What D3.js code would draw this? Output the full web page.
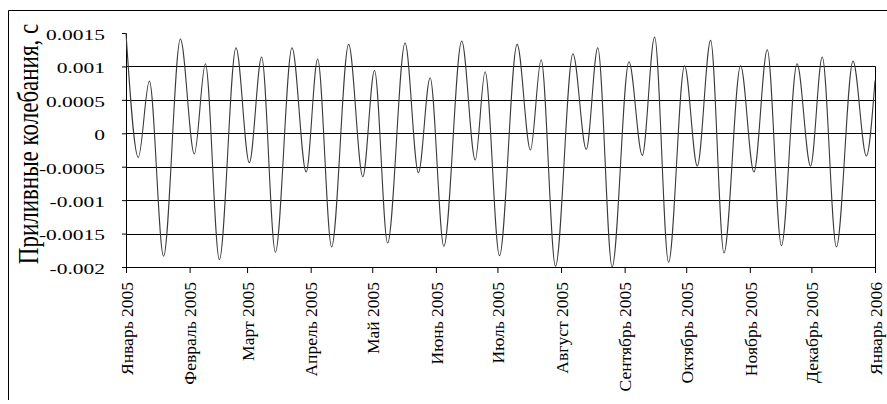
<html>
  <head>
    <meta charset="utf-8">
    <script src="https://cdn.jsdelivr.net/npm/d3@7"></script>
    <style type="text/css">
      body {
        margin: 0;
        padding: 0;
        background: #fff;
      }

      svg text {
        font-family: 'Liberation Serif', 'Times New Roman', serif;
        fill: #000;
      }
    </style>
  </head>
  <body>
    <svg id="chart" width="887" height="404"></svg>

    <script>
      /* Data: turning points of the tide curve */
      // days since 1 Jan 2005
      const tideDays = [
        0, 6.0, 11.4, 18.3, 26.5, 33.3, 38.7, 45.5, 53.6, 60.1,
        66.1, 72.8, 80.9, 87.8, 93.4, 100.2, 108.5, 115.4, 121.1, 127.5,
        136.0, 142.5, 148.2, 154.9, 163.6, 170.2, 175.0, 182.0, 190.6, 197.1,
        202.3, 209.3, 217.8, 224.3, 229.9, 236.9, 245.1, 251.6, 257.6, 264.4,
        272.2, 278.4, 284.9, 291.4, 299.5, 306.0, 312.5, 319.4, 327.0, 333.6,
        339.3, 346.2, 354.3, 360.8, 365
      ]
      // seconds
      const tideValues = [
        0.0015, -0.00036, 0.00078, -0.00184, 0.00141, -0.00031, 0.00104, -0.00189, 0.00128, -0.00044,
        0.00114, -0.00178, 0.00128, -0.00058, 0.00111, -0.00170, 0.00133, -0.00065, 0.00094, -0.00164,
        0.00135, -0.00059, 0.00083, -0.00169, 0.00138, -0.00040, 0.00092, -0.00183, 0.00133, -0.00025,
        0.00110, -0.00199, 0.00119, -0.00024, 0.00128, -0.00200, 0.00107, -0.00033, 0.00144, -0.00193,
        0.00101, -0.00049, 0.00139, -0.00179, 0.00101, -0.00058, 0.00125, -0.00168, 0.00104, -0.00049,
        0.00114, -0.00170, 0.00108, -0.00034, 0.00079
      ]

      const monthLabels = [
        'Январь 2005', 'Февраль 2005', 'Март 2005', 'Апрель 2005', 'Май 2005',
        'Июнь 2005', 'Июль 2005', 'Август 2005', 'Сентябрь 2005', 'Октябрь 2005',
        'Ноябрь 2005', 'Декабрь 2005', 'Январь 2006'
      ]
      const yTicks = [-0.002, -0.0015, -0.001, -0.0005, 0, 0.0005, 0.001, 0.0015]
      const yTickLabels = ['-0.002', '-0.0015', '-0.001', '-0.0005', '0', '0.0005', '0.001', '0.0015']
      const yTitle = 'Приливные колебания, с'

      const start = new Date(Date.UTC(2005, 0, 1))
      const monthDates = monthLabels.map((d, i) => new Date(Date.UTC(2005, i, 1)))
      const points = tideDays.map((d, i) => ({
        date: new Date(start.getTime() + d * 864e5),
        value: tideValues[i]
      }))

      const svg = d3.select('#chart')

      const x = d3.scaleUtc()
        .domain([start, monthDates[monthDates.length - 1]])
        .range([126, 875])

      const y = d3.scaleLinear()
        .domain([-0.002, 0.0015])
        .range([267, 33])

      // outer frame (only top and left edges are in view)
      svg.append('path')
        .attr('d', 'M8.5,400V10.5H887')
        .attr('fill', 'none')
        .attr('stroke', '#000')

      // horizontal gridlines
      svg.append('g')
        .selectAll('line')
        .data(yTicks.filter(v => v > -0.002 && v < 0.0015))
        .join('line')
          .attr('x1', x.range()[0] + 0.5)
          .attr('x2', x.range()[1] + 0.5)
          .attr('y1', d => Math.round(y(d)) + 0.5)
          .attr('y2', d => Math.round(y(d)) + 0.5)
          .attr('stroke', '#000')

      // right edge of the plot area
      svg.append('line')
        .attr('x1', x.range()[1] + 0.5)
        .attr('x2', x.range()[1] + 0.5)
        .attr('y1', Math.round(y(0.001)) + 0.5)
        .attr('y2', y(-0.002))
        .attr('stroke', '#000')

      // x axis
      const xAxis = svg.append('g')
        .attr('transform', `translate(0,${y(-0.002)})`)
        .call(d3.axisBottom(x)
          .tickValues(monthDates)
          .tickFormat((d, i) => monthLabels[i])
          .tickSize(6)
          .tickSizeOuter(0))

      xAxis.selectAll('text')
        .attr('transform', 'rotate(-90)')
        .attr('text-anchor', 'end')
        .attr('x', -15)
        .attr('y', 6.3)
        .attr('dy', 0)
        .style('font-size', '17.5px')

      // y axis
      const yAxis = svg.append('g')
        .attr('transform', `translate(${x.range()[0]},0)`)
        .call(d3.axisLeft(y)
          .tickValues(yTicks)
          .tickFormat((d, i) => yTickLabels[i])
          .tickSize(4)
          .tickSizeOuter(0))

      yAxis.selectAll('text')
        .attr('x', 0)
        .attr('dy', 0)
        .attr('transform', 'translate(-21,6.3) scale(1.43,1)')
        .style('font-size', '15px')

      svg.selectAll('.domain').attr('stroke', '#000')
      svg.selectAll('.tick line').attr('stroke', '#000')

      // the tide curve
      const line = d3.line()
        .x(d => x(d.date))
        .y(d => y(d.value))
        .curve(d3.curveMonotoneX)

      svg.append('path')
        .datum(points)
        .attr('d', line)
        .attr('fill', 'none')
        .attr('stroke', '#3a3a3a')
        .attr('stroke-width', 1.1)

      // axis title
      svg.append('text')
        .attr('transform', 'translate(38,144) scale(1.25,1) rotate(-90)')
        .attr('text-anchor', 'middle')
        .style('font-size', '23px')
        .text(yTitle)
    </script>
  </body>
</html>
